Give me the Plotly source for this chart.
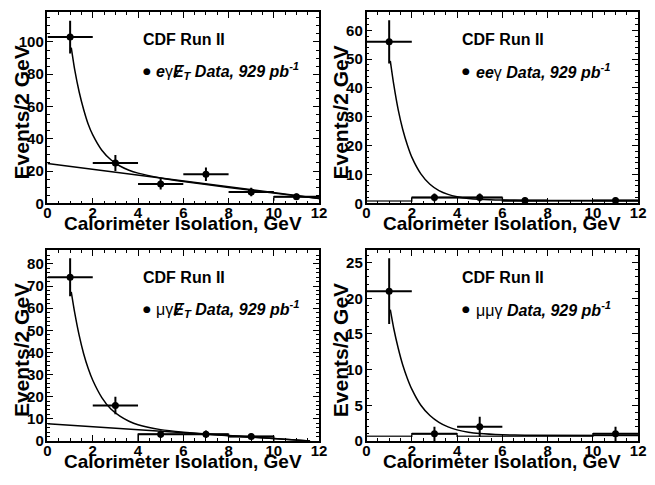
import plotly.graph_objects as go

W, H = 655, 485

# ---------------- data ----------------
# panel 1: e gamma MET
p1_x = [1, 3, 5, 7, 9, 11]
p1_y = [103, 25, 12, 18, 7, 4]
p1_err = [10.1, 5.0, 3.5, 4.2, 2.6, 2.0]
p1_fit_x = [1.05, 1.2, 1.4, 1.6, 1.8, 2.0, 2.4, 2.8, 3.2, 3.6, 4.0, 5.0, 6.0, 8.0, 10.0, 12.0]
p1_fit_y = [96.5, 83, 69, 58, 49, 42.4, 32.9, 27.0, 23.1, 20.5, 18.7, 15.7, 13.5, 9.8, 6.3, 3.0]
p1_line_x = [0, 12]
p1_line_y = [24.6, 3.0]
p1_hist_x = [10, 10, 12]
p1_hist_y = [1.5, 4, 4]

# panel 2: e e gamma
p2_x = [1, 3, 5, 7, 11]
p2_y = [56, 2, 2, 1, 1]
p2_err = [7.5, 1.4, 1.4, 1.0, 1.0]
p2_fit_x = [1.05, 1.2, 1.4, 1.6, 1.8, 2.0, 2.4, 2.8, 3.2, 3.6, 4.0, 4.5, 5.0, 6.0, 7.0, 12.0]
p2_fit_y = [49.4, 41.3, 32.4, 25.6, 20.3, 16.0, 10.2, 6.6, 4.4, 3.1, 2.3, 1.7, 1.4, 1.1, 1.0, 1.0]
p2_hist_x = [0, 2, 2, 6, 6, 12]
p2_hist_y = [0.8, 0.8, 2, 2, 0.8, 0.8]

# panel 3: mu gamma MET
p3_x = [1, 3, 5, 7, 9]
p3_y = [74, 16, 3, 3, 2]
p3_err = [8.6, 4.0, 1.7, 1.7, 1.4]
p3_fit_x = [1.05, 1.2, 1.4, 1.6, 1.8, 2.0, 2.4, 2.8, 3.2, 3.6, 4.0, 5.0, 6.0, 8.0, 10.0, 11.6]
p3_fit_y = [67.4, 58.1, 47.7, 39.3, 32.7, 27.4, 19.6, 14.4, 11.2, 8.9, 7.3, 5.1, 3.95, 2.4, 1.06, 0.0]
p3_line_x = [0, 11.6]
p3_line_y = [7.7, 0.0]
p3_hist_x = [4, 4, 8, 8, 10, 10]
p3_hist_y = [0, 3, 3, 2, 2, 0]

# panel 4: mu mu gamma
p4_x = [1, 3, 5, 11]
p4_y = [21, 1, 2, 1]
p4_err = [4.6, 1.0, 1.4, 1.0]
p4_fit_x = [1.05, 1.2, 1.4, 1.6, 1.8, 2.0, 2.4, 2.8, 3.2, 3.6, 4.0, 4.5, 5.0, 6.0, 7.0, 12.0]
p4_fit_y = [18.4, 15.8, 13.0, 10.65, 8.8, 7.26, 5.0, 3.56, 2.6, 1.96, 1.55, 1.22, 1.03, 0.86, 0.79, 0.75]
p4_hist_x = [0, 2, 2, 4, 4, 10, 10, 12]
p4_hist_y = [0.65, 0.65, 1, 1, 0.65, 0.65, 1, 1]

y_ranges = [118.5, 66.3, 86.4, 26.8]
y_dticks = [20, 10, 10, 5]
y_minor = [5, 2, 2, 1]
x_ticks = [0, 2, 4, 6, 8, 10, 12]

MET = "Ɇ<sub>T</sub>"
legend_texts = [
    "<b><i>e</i></b>γ<b><i>" + MET + " Data, 929 pb<sup>-1</sup></i></b>",
    "<b><i>ee</i></b>γ<b><i> Data, 929 pb<sup>-1</sup></i></b>",
    "μγ<b><i>" + MET + " Data, 929 pb<sup>-1</sup></i></b>",
    "μμγ<b><i> Data, 929 pb<sup>-1</sup></i></b>",
]

# ---------------- layout geometry (pixels) ----------------
cols = [(44.3, 321.0), (369.3, 646.0)]
rows = [(12.3, 206.7), (254.0, 448.3)]

FONT = "Liberation Sans"
fig = go.Figure()

panels = [
    (p1_x, p1_y, p1_err, p1_fit_x, p1_fit_y, (p1_line_x, p1_line_y), (p1_hist_x, p1_hist_y)),
    (p2_x, p2_y, p2_err, p2_fit_x, p2_fit_y, None, (p2_hist_x, p2_hist_y)),
    (p3_x, p3_y, p3_err, p3_fit_x, p3_fit_y, (p3_line_x, p3_line_y), (p3_hist_x, p3_hist_y)),
    (p4_x, p4_y, p4_err, p4_fit_x, p4_fit_y, None, (p4_hist_x, p4_hist_y)),
]

annotations = []
for i, (px, py, perr, fx, fy, line, hist) in enumerate(panels):
    r, c = divmod(i, 2)
    n = "" if i == 0 else str(i + 1)
    xa, ya = "x" + n, "y" + n
    x0, x1 = cols[c]
    top, bot = rows[r]
    fig.update_layout(**{
        "xaxis" + n: dict(
            domain=[x0 / W, x1 / W], range=[0, 12], anchor=ya,
            tickmode="array", tickvals=x_ticks, ticks="inside", ticklen=6, tickwidth=1,
            minor=dict(dtick=0.5, ticks="inside", ticklen=3, tickwidth=1, tickcolor="black"),
            showline=True, linewidth=1.5, linecolor="black", mirror="ticks",
            showgrid=False, zeroline=False, tickcolor="black", ticklabelstandoff=-5,
            tickfont=dict(family=FONT, size=15, color="black", weight="bold"),
        ),
        "yaxis" + n: dict(
            domain=[1 - bot / H, 1 - top / H], range=[0, y_ranges[i]], anchor=xa,
            dtick=y_dticks[i], tick0=0, ticks="inside", ticklen=6, tickwidth=1,
            minor=dict(dtick=y_minor[i], ticks="inside", ticklen=3, tickwidth=1, tickcolor="black"),
            showline=True, linewidth=1.5, linecolor="black", mirror="ticks",
            showgrid=False, zeroline=False, tickcolor="black", ticklabelstandoff=-1,
            tickfont=dict(family=FONT, size=15, color="black", weight="bold"),
        ),
    })
    if hist is not None:
        fig.add_trace(go.Scatter(x=hist[0], y=hist[1], mode="lines", xaxis=xa, yaxis=ya,
                                 line=dict(color="#333333", width=1.5), showlegend=False))
    if line is not None:
        fig.add_trace(go.Scatter(x=line[0], y=line[1], mode="lines", xaxis=xa, yaxis=ya,
                                 line=dict(color="black", width=1.5), showlegend=False))
    fig.add_trace(go.Scatter(x=fx, y=fy, mode="lines", xaxis=xa, yaxis=ya,
                             line=dict(color="black", width=1.5, shape="spline", smoothing=0.6),
                             showlegend=False))
    fig.add_trace(go.Scatter(
        x=px, y=py, mode="markers", xaxis=xa, yaxis=ya, showlegend=False,
        marker=dict(color="black", size=7),
        error_y=dict(type="data", array=perr, color="black", thickness=2, width=0),
        error_x=dict(type="data", array=[1] * len(px), color="black", thickness=2, width=0),
    ))
    # texts
    annotations.append(dict(
        text="<b>CDF Run II</b>", xref="paper", yref="paper",
        x=(x0 + 95) / W, y=1 - (top + 28) / H, xanchor="left", yanchor="middle",
        showarrow=False, font=dict(family=FONT, size=16, color="black")))
    annotations.append(dict(
        text="●", xref="paper", yref="paper",
        x=(x0 + 101.5) / W, y=1 - (top + 60) / H, xanchor="center", yanchor="middle",
        showarrow=False, font=dict(family="DejaVu Sans", size=9, color="black")))
    annotations.append(dict(
        text=legend_texts[i], xref="paper", yref="paper",
        x=(x0 + 109) / W, y=1 - (top + 60) / H, xanchor="left", yanchor="middle",
        showarrow=False, font=dict(family=FONT, size=16, color="black")))
    annotations.append(dict(
        text="<b>Calorimeter Isolation, GeV</b>", xref="paper", yref="paper",
        x=(x0 + x1) / 2 / W, y=1 - (bot + 20.5) / H, xanchor="center", yanchor="middle",
        showarrow=False, font=dict(family=FONT, size=19, color="black")))
    annotations.append(dict(
        text="<b>Events/2 GeV</b>", xref="paper", yref="paper", textangle=-90,
        x=(x0 - 27) / W, y=1 - (top + bot) / 2 / H - 0.01, xanchor="center", yanchor="middle",
        showarrow=False, font=dict(family=FONT, size=21, color="black")))

fig.update_layout(
    width=W, height=H, margin=dict(l=0, r=0, t=0, b=0),
    paper_bgcolor="white", plot_bgcolor="white",
    annotations=annotations, showlegend=False,
)

fig.write_html("out.html")
